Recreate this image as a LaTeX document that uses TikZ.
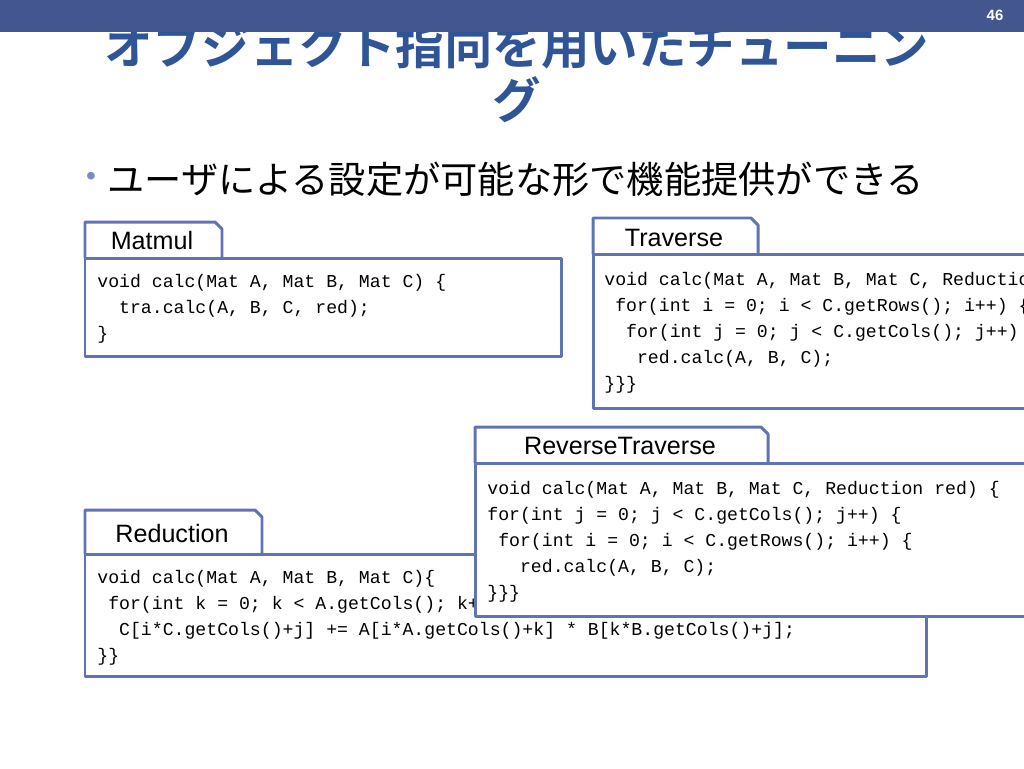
\documentclass[tikz,border=0pt]{standalone}
\usepackage{fontspec}
\setmainfont{Liberation Sans}
\setmonofont{Liberation Mono}
\newfontfamily\jpfont{Noto Sans CJK JP}[BoldFont={Noto Sans CJK JP Bold}]
\usetikzlibrary{positioning}

\definecolor{barblue}{RGB}{67,86,143}
\definecolor{titleblue}{RGB}{47,85,151}
\definecolor{pkgblue}{RGB}{96,116,180}
\definecolor{dotblue}{RGB}{120,140,200}

\begin{document}
\begin{tikzpicture}[
    x=0.02cm, y=-0.02cm,
    pkgline/.style={draw=pkgblue, line width=1.7pt, fill=white, line join=round},
    tablabel/.style={font=\fontsize{14.3}{16}\selectfont, inner sep=0pt},
    codetext/.style={font=\fontsize{10.34}{14.74}\selectfont\ttfamily, align=left, anchor=north west, inner sep=0pt}
]
\useasboundingbox (0,0) rectangle (1024,768);
\clip (0,0) rectangle (1024,768);

% Title (partly under the bar)
\node[font=\jpfont\bfseries\fontsize{27.6}{30.6}\selectfont, text=titleblue, align=center, anchor=north] (title) at (517,16)
    {オブジェクト指向を用いたチューニン\\グ};

% Top bar
\fill[barblue] (0,0) rectangle (1024,32);
\node[font=\bfseries\fontsize{8.5}{10}\selectfont, text=white] (pagenum) at (995,15) {46};

% Bullet
\node[text=dotblue, font=\fontsize{16}{18}\selectfont] (dot) at (91,179) {•};
\node[font=\jpfont\fontsize{21.2}{24}\selectfont, anchor=west, inner sep=0pt] (point) at (107,179)
    {ユーザによる設定が可能な形で機能提供ができる};

% Matmul
\draw[pkgline] (85,258) -- (85,222) -- (215,222) -- (222,229) -- (222,258);
\draw[pkgline] (85,258) rectangle (561,356);
\node[tablabel] (matmul) at (152,241) {Matmul};
\node[codetext] (matmulcode) at (97,274) {void calc(Mat A, Mat B, Mat C) \{\\
\ \ tra.calc(A, B, C, red);\\
\}};

% Traverse
\draw[pkgline] (593,254) -- (593,218) -- (751,218) -- (758,225) -- (758,254);
\draw[pkgline] (593,254) rectangle (1040,408);
\node[tablabel] (traverse) at (674,238) {Traverse};
\node[codetext] (traversecode) at (604,272) {void calc(Mat A, Mat B, Mat C, Reduction red) \{\\
\ for(int i = 0; i < C.getRows(); i++) \{\\
\ \ for(int j = 0; j < C.getCols(); j++) \{\\
\ \ \ red.calc(A, B, C);\\
\}\}\}};

% Reduction
\draw[pkgline] (85,554) -- (85,510) -- (255,510) -- (262,517) -- (262,554);
\draw[pkgline] (85,554) rectangle (926,676);
\node[tablabel] (reduction) at (172,534) {Reduction};
\node[codetext] (reductioncode) at (97,570) {void calc(Mat A, Mat B, Mat C)\{\\
\ for(int k = 0; k < A.getCols(); k++) \{\\
\ \ C[i*C.getCols()+j] += A[i*A.getCols()+k] * B[k*B.getCols()+j];\\
\}\}};

% ReverseTraverse (on top of Reduction)
\draw[pkgline] (475,463) -- (475,427) -- (761,427) -- (768,434) -- (768,463);
\draw[pkgline] (475,463) rectangle (1040,616);
\node[tablabel] (revtraverse) at (620,446) {ReverseTraverse};
\node[codetext] (revtraversecode) at (487,481) {void calc(Mat A, Mat B, Mat C, Reduction red) \{\\
for(int j = 0; j < C.getCols(); j++) \{\\
\ for(int i = 0; i < C.getRows(); i++) \{\\
\ \ \ red.calc(A, B, C);\\
\}\}\}};

\end{tikzpicture}
\end{document}
